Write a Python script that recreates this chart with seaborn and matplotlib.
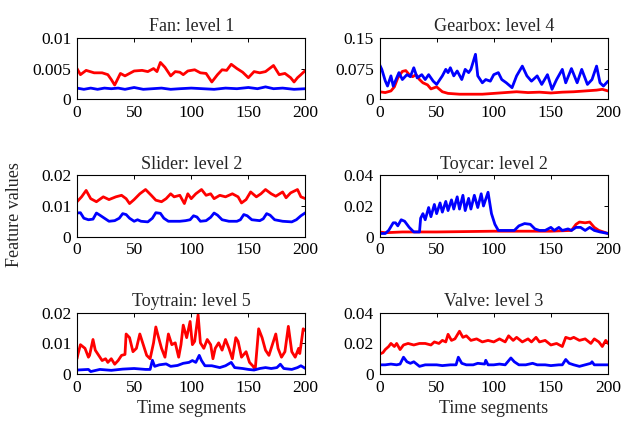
import numpy as np
import pandas as pd
import matplotlib
matplotlib.use("Agg")
import matplotlib.pyplot as plt
import seaborn as sns

# ---- data (segment, value) ----
fan_red_x = [0, 3, 8, 15, 22, 27, 30, 33, 38, 42, 50, 57, 62, 67, 70, 73, 77, 82, 86, 90, 93, 97,
             103, 108, 113, 118, 123, 127, 131, 135, 140, 145, 150, 155, 160, 165, 172, 177, 182,
             187, 190, 193, 196, 200]
fan_red_y = [0.0050, 0.0040, 0.0047, 0.0043, 0.0043, 0.0040, 0.0032, 0.0023, 0.0042, 0.0038,
             0.0046, 0.0047, 0.0045, 0.0050, 0.0045, 0.0060, 0.0052, 0.0038, 0.0045, 0.0044,
             0.0040, 0.0046, 0.0048, 0.0043, 0.0042, 0.0028, 0.0040, 0.0048, 0.0047, 0.0057,
             0.0050, 0.0044, 0.0035, 0.0045, 0.0043, 0.0045, 0.0055, 0.0040, 0.0042, 0.0035,
             0.0028, 0.0035, 0.0040, 0.0047]
fan_blue_x = [0, 6, 12, 18, 24, 30, 36, 42, 50, 58, 66, 74, 82, 90, 100, 110, 120, 130, 140,
              150, 158, 165, 172, 180, 190, 200]
fan_blue_y = [0.0018, 0.0016, 0.0018, 0.0016, 0.0018, 0.0017, 0.0018, 0.0016, 0.0019, 0.0016,
              0.0017, 0.0018, 0.0016, 0.0017, 0.0018, 0.0017, 0.0016, 0.0018, 0.0017, 0.0019,
              0.0017, 0.0020, 0.0017, 0.0018, 0.0016, 0.0017]

gear_red_x = [0, 5, 10, 13, 16, 20, 23, 26, 29, 32, 35, 38, 42, 45, 50, 55, 60, 70, 80, 90, 100,
              110, 120, 130, 140, 150, 160, 170, 180, 190, 195, 200]
gear_red_y = [0.018, 0.016, 0.020, 0.030, 0.052, 0.068, 0.070, 0.060, 0.055, 0.060, 0.048, 0.040,
              0.035, 0.025, 0.030, 0.018, 0.014, 0.012, 0.012, 0.012, 0.014, 0.016, 0.018, 0.016,
              0.017, 0.015, 0.017, 0.018, 0.020, 0.022, 0.024, 0.020]
gear_blue_x = [0, 2, 5, 7, 10, 12, 17, 20, 24, 27, 30, 33, 37, 40, 43, 47, 50, 55, 58, 60, 62, 65,
               68, 72, 75, 78, 80, 84, 86, 90, 93, 97, 100, 104, 107, 111, 116, 120, 125, 129,
               133, 138, 142, 147, 151, 155, 160, 163, 168, 173, 177, 182, 186, 190, 193, 196,
               200]
gear_blue_y = [0.085, 0.073, 0.045, 0.032, 0.057, 0.032, 0.065, 0.048, 0.060, 0.055, 0.077, 0.052,
               0.060, 0.048, 0.060, 0.044, 0.036, 0.057, 0.073, 0.065, 0.077, 0.057, 0.069, 0.048,
               0.073, 0.065, 0.073, 0.110, 0.057, 0.040, 0.048, 0.044, 0.060, 0.065, 0.048, 0.040,
               0.028, 0.057, 0.081, 0.057, 0.044, 0.057, 0.036, 0.060, 0.024, 0.048, 0.073, 0.040,
               0.075, 0.040, 0.073, 0.036, 0.048, 0.081, 0.040, 0.032, 0.044]

slider_red_x = [0, 4, 8, 12, 17, 23, 28, 34, 39, 43, 46, 50, 55, 60, 65, 69, 74, 78, 82, 85, 90,
                94, 97, 100, 104, 109, 113, 117, 120, 125, 130, 136, 141, 144, 148, 152, 157,
                161, 165, 170, 174, 180, 183, 187, 193, 196, 200]
slider_red_y = [0.0114, 0.0130, 0.0151, 0.0124, 0.0114, 0.0130, 0.0121, 0.0130, 0.0135, 0.0124,
                0.0108, 0.0121, 0.0140, 0.0154, 0.0135, 0.0119, 0.0114, 0.0124, 0.0140, 0.0130,
                0.0135, 0.0108, 0.0140, 0.0124, 0.0140, 0.0154, 0.0135, 0.0140, 0.0124, 0.0135,
                0.0130, 0.0140, 0.0130, 0.0110, 0.0121, 0.0146, 0.0130, 0.0140, 0.0154, 0.0140,
                0.0132, 0.0146, 0.0127, 0.0143, 0.0154, 0.0130, 0.0124]
slider_blue_x = [0, 3, 6, 10, 14, 17, 20, 24, 28, 33, 37, 40, 43, 46, 50, 53, 56, 62, 66, 69, 73,
                 76, 80, 90, 95, 99, 102, 105, 108, 113, 117, 120, 123, 127, 133, 140, 143, 146,
                 149, 153, 160, 163, 166, 169, 173, 180, 188, 192, 196, 200]
slider_blue_y = [0.0077, 0.0078, 0.0060, 0.0055, 0.0057, 0.0077, 0.0070, 0.0060, 0.0050, 0.0052,
                 0.0060, 0.0075, 0.0072, 0.0060, 0.0050, 0.0055, 0.0050, 0.0048, 0.0060, 0.0078,
                 0.0076, 0.0060, 0.0050, 0.0050, 0.0052, 0.0055, 0.0068, 0.0064, 0.0050, 0.0052,
                 0.0063, 0.0077, 0.0070, 0.0055, 0.0050, 0.0050, 0.0055, 0.0072, 0.0068, 0.0055,
                 0.0052, 0.0058, 0.0075, 0.0070, 0.0055, 0.0050, 0.0048, 0.0055, 0.0068, 0.0078]

toycar_red_x = [0, 5, 20, 50, 100, 150, 168, 172, 175, 180, 184, 188, 192, 196, 200]
toycar_red_y = [0.0030, 0.0025, 0.0030, 0.0030, 0.0035, 0.0035, 0.0040, 0.0080, 0.0095, 0.0090,
                0.0095, 0.0060, 0.0040, 0.0030, 0.0020]
toycar_blue_x = [0, 5, 8, 12, 14, 16, 19, 22, 26, 30, 35, 36, 38, 40, 43, 45, 48, 50, 53, 55, 58,
                 60, 63, 65, 68, 70, 73, 75, 78, 80, 83, 86, 89, 91, 95, 98, 101, 104, 110, 118,
                 122, 127, 132, 136, 140, 145, 150, 153, 157, 160, 165, 168, 172, 176, 180, 184,
                 188, 193, 200]
toycar_blue_y = [0.0020, 0.0020, 0.0040, 0.0090, 0.0090, 0.0070, 0.0110, 0.0100, 0.0060, 0.0030,
                 0.0030, 0.0120, 0.0150, 0.0110, 0.0190, 0.0130, 0.0210, 0.0150, 0.0220, 0.0160,
                 0.0230, 0.0170, 0.0240, 0.0180, 0.0260, 0.0180, 0.0270, 0.0170, 0.0250, 0.0180,
                 0.0270, 0.0190, 0.0280, 0.0200, 0.0290, 0.0150, 0.0080, 0.0040, 0.0040, 0.0040,
                 0.0070, 0.0085, 0.0080, 0.0050, 0.0040, 0.0040, 0.0060, 0.0040, 0.0060, 0.0040,
                 0.0050, 0.0040, 0.0060, 0.0060, 0.0040, 0.0060, 0.0040, 0.0030, 0.0020]

train_red_x = [0, 1, 3, 7, 10, 11, 14, 16, 19, 22, 25, 27, 30, 33, 36, 39, 42, 43, 46, 49, 52, 55,
               58, 61, 64, 67, 69, 71, 74, 77, 80, 83, 86, 89, 91, 93, 96, 99, 101, 103, 106, 108,
               111, 114, 117, 119, 121, 124, 127, 130, 133, 136, 139, 141, 144, 148, 151, 154,
               156, 159, 162, 165, 168, 171, 174, 176, 179, 182, 185, 188, 191, 194, 195, 198,
               200]
train_red_y = [0.0050, 0.0067, 0.0096, 0.0084, 0.0055, 0.0061, 0.0113, 0.0078, 0.0061, 0.0044,
               0.0050, 0.0038, 0.0050, 0.0032, 0.0044, 0.0061, 0.0064, 0.0131, 0.0119, 0.0073,
               0.0084, 0.0131, 0.0096, 0.0061, 0.0050, 0.0102, 0.0154, 0.0125, 0.0084, 0.0055,
               0.0131, 0.0096, 0.0102, 0.0055, 0.0096, 0.0160, 0.0119, 0.0172, 0.0096, 0.0107,
               0.0194, 0.0102, 0.0084, 0.0113, 0.0096, 0.0050, 0.0084, 0.0102, 0.0078, 0.0113,
               0.0084, 0.0050, 0.0119, 0.0107, 0.0055, 0.0073, 0.0038, 0.0026, 0.0015, 0.0148,
               0.0119, 0.0078, 0.0061, 0.0096, 0.0131, 0.0084, 0.0055, 0.0073, 0.0156, 0.0073,
               0.0055, 0.0084, 0.0067, 0.0148, 0.0142]
train_blue_x = [0, 10, 12, 20, 30, 40, 50, 60, 64, 66, 68, 72, 78, 82, 88, 93, 98, 101, 104, 107,
                109, 112, 118, 125, 130, 135, 138, 145, 150, 155, 160, 165, 170, 175, 178, 181,
                188, 193, 196, 200]
train_blue_y = [0.0013, 0.0015, 0.0008, 0.0015, 0.0012, 0.0016, 0.0018, 0.0015, 0.0015, 0.0045,
                0.0025, 0.0030, 0.0033, 0.0025, 0.0028, 0.0035, 0.0038, 0.0044, 0.0038, 0.0061,
                0.0044, 0.0027, 0.0027, 0.0021, 0.0027, 0.0038, 0.0021, 0.0018, 0.0015, 0.0013,
                0.0018, 0.0021, 0.0018, 0.0021, 0.0032, 0.0018, 0.0015, 0.0021, 0.0027, 0.0018]

valve_red_x = [0, 3, 5, 8, 10, 13, 15, 18, 21, 25, 30, 35, 40, 45, 48, 52, 55, 58, 60, 63, 66, 70,
               73, 76, 80, 85, 90, 95, 100, 105, 110, 113, 117, 120, 125, 130, 133, 137, 140, 145,
               150, 155, 160, 163, 167, 170, 175, 180, 185, 188, 192, 195, 198, 200]
valve_red_y = [0.013, 0.014, 0.016, 0.018, 0.020, 0.018, 0.020, 0.016, 0.019, 0.020, 0.019, 0.020,
               0.020, 0.019, 0.021, 0.020, 0.022, 0.021, 0.026, 0.022, 0.023, 0.028, 0.024, 0.025,
               0.022, 0.023, 0.021, 0.022, 0.021, 0.023, 0.021, 0.025, 0.022, 0.024, 0.021, 0.023,
               0.021, 0.024, 0.021, 0.022, 0.019, 0.020, 0.018, 0.024, 0.023, 0.024, 0.022, 0.023,
               0.020, 0.023, 0.021, 0.018, 0.022, 0.020]
valve_blue_x = [0, 5, 10, 15, 18, 21, 24, 27, 30, 35, 40, 50, 55, 62, 67, 69, 72, 76, 82, 86, 92,
                93, 95, 100, 105, 110, 115, 118, 122, 128, 134, 138, 145, 150, 157, 160, 163, 166,
                170, 175, 180, 185, 186, 188, 195, 200]
valve_blue_y = [0.0060, 0.0060, 0.0065, 0.0060, 0.0065, 0.0110, 0.0080, 0.0070, 0.0080, 0.0050,
                0.0060, 0.0060, 0.0055, 0.0060, 0.0060, 0.0110, 0.0070, 0.0060, 0.0060, 0.0070,
                0.0065, 0.0090, 0.0060, 0.0060, 0.0065, 0.0060, 0.0105, 0.0080, 0.0060, 0.0060,
                0.0070, 0.0060, 0.0060, 0.0055, 0.0060, 0.0060, 0.0095, 0.0070, 0.0060, 0.0050,
                0.0060, 0.0070, 0.0080, 0.0060, 0.0060, 0.0060]

titles = ["Fan: level 1", "Gearbox: level 4", "Slider: level 2",
          "Toycar: level 2", "Toytrain: level 5", "Valve: level 3"]
ytick_vals = [[0, 0.005, 0.01], [0, 0.075, 0.15], [0, 0.01, 0.02],
              [0, 0.02, 0.04], [0, 0.01, 0.02], [0, 0.02, 0.04]]
ytick_labels = [["0", "0.005", "0.01"], ["0", "0.075", "0.15"], ["0", "0.01", "0.02"],
                ["0", "0.02", "0.04"], ["0", "0.01", "0.02"], ["0", "0.02", "0.04"]]
xtick_vals = [0, 50, 100, 150, 200]

series = [
    [(fan_red_x, fan_red_y), (fan_blue_x, fan_blue_y)],
    [(gear_red_x, gear_red_y), (gear_blue_x, gear_blue_y)],
    [(slider_red_x, slider_red_y), (slider_blue_x, slider_blue_y)],
    [(toycar_red_x, toycar_red_y), (toycar_blue_x, toycar_blue_y)],
    [(train_red_x, train_red_y), (train_blue_x, train_blue_y)],
    [(valve_red_x, valve_red_y), (valve_blue_x, valve_blue_y)],
]

sns.set_style("white")
plt.rcParams["font.family"] = ["Liberation Serif", "DejaVu Serif"]
plt.rcParams["mathtext.fontset"] = "stix"

W, H = 622, 430
fig, axes = plt.subplots(3, 2, figsize=(W / 100, H / 100), dpi=100)
fig.subplots_adjust(left=77 / W, right=608 / W, top=1 - 38 / H, bottom=1 - 374 / H,
                    wspace=0.324, hspace=1.25)

palette = {"red": "#ff0000", "blue": "#0000ff"}

for i, ax in enumerate(axes.flat):
    (rx, ry), (bx, by) = series[i]
    df = pd.concat([
        pd.DataFrame({"seg": rx, "val": ry, "kind": "red"}),
        pd.DataFrame({"seg": bx, "val": by, "kind": "blue"}),
    ], ignore_index=True)
    sns.lineplot(data=df, x="seg", y="val", hue="kind", palette=palette, ax=ax,
                 estimator=None, sort=False, legend=False, linewidth=2.0)
    ax.set_xlim(0, 200)
    ax.set_ylim(ytick_vals[i][0], ytick_vals[i][-1])
    ax.set_xticks(xtick_vals)
    ax.set_xticklabels([str(v) for v in xtick_vals], fontsize=12.5)
    ax.set_yticks(ytick_vals[i])
    ax.set_yticklabels(ytick_labels[i], fontsize=12.5)
    ax.set_title(titles[i], fontsize=13, pad=5)
    ax.tick_params(direction="in", length=3, width=0.7, top=True, right=True,
                   pad=4, colors="black")
    for sp in ax.spines.values():
        sp.set_visible(True)
        sp.set_color("black")
        sp.set_linewidth(0.8)
    if i >= 4:
        ax.set_xlabel("Time segments", fontsize=13, labelpad=3)
    else:
        ax.set_xlabel("")
    ax.set_ylabel("")

fig.text(15 / W, 1 - 215 / H, "Feature values", rotation=90, fontsize=13,
         ha="center", va="center")

fig.savefig("out.png", dpi=100)
